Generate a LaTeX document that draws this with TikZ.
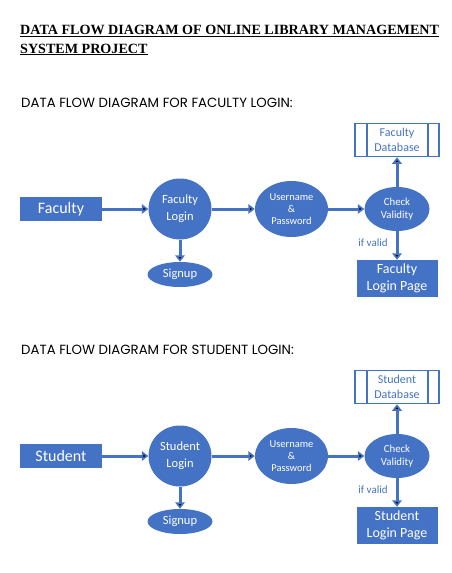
\documentclass[tikz,border=0pt]{standalone}
\usepackage{fontspec}
\setmainfont{Liberation Serif}
\newfontfamily\dfdfont{Carlito}
\newfontfamily\headfont{Poppins}
\usetikzlibrary{shapes.geometric,arrows.meta}
\definecolor{dfdblue}{HTML}{4472C4}

\begin{document}
\begin{tikzpicture}[x=1pt,y=-1pt,
        entity/.style={fill=dfdblue,text=white,inner sep=0pt,align=center,font=\dfdfont\fontsize{16}{17}\selectfont},
        process/.style={ellipse,fill=dfdblue,text=white,inner sep=0pt,align=center,font=\dfdfont\fontsize{12.5}{17}\selectfont},
        store/.style={draw=dfdblue,line width=1.5pt,text=dfdblue,minimum width=84pt,minimum height=33pt,inner sep=0pt,align=center,font=\dfdfont\fontsize{12}{15}\selectfont,
            path picture={\draw[dfdblue,line width=1.5pt] ([xshift=12pt]path picture bounding box.north west) -- ([xshift=12pt]path picture bounding box.south west);
                \draw[dfdblue,line width=1.5pt] ([xshift=-11pt]path picture bounding box.north east) -- ([xshift=-11pt]path picture bounding box.south east);}},
        flow/.style={draw=dfdblue,line width=3pt,-{Triangle[width=9.5pt,length=6.5pt]}},
        note/.style={text=dfdblue,font=\dfdfont\fontsize{11}{12}\selectfont},
        heading/.style={anchor=base west,inner sep=0pt,font=\headfont\fontsize{13.3}{15}\selectfont}
    ]
        \useasboundingbox (0,0) rectangle (452,573);

        \node (title) [anchor=base west,align=left,inner sep=0pt,font=\fontsize{14.1}{18.5}\selectfont\bfseries] at (20,53)
            {\underline{DATA FLOW DIAGRAM OF ONLINE LIBRARY MANAGEMENT}\\\underline{SYSTEM PROJECT}};

        % faculty login
        \node (headfac) [heading] at (21,107) {DATA FLOW DIAGRAM FOR FACULTY LOGIN:};
        \node (fac) [entity,minimum width=82pt,minimum height=24pt] at (61,209) {Faculty};
        \node (faclogin) [process,minimum width=63pt,minimum height=61pt] at (180,209) {Faculty\\Login};
        \node (facuser) [process,minimum width=73pt,minimum height=56pt,font=\dfdfont\fontsize{10.5}{11.7}\selectfont] at (291.5,209) {Username\\\&\\Password};
        \node (faccheck) [process,minimum width=65pt,minimum height=44pt,font=\dfdfont\fontsize{10.8}{12.7}\selectfont] at (397,209) {Check\\Validity};
        \node (facdb) [store] at (397,140) {Faculty\\Database};
        \node (facpage) [entity,minimum width=81pt,minimum height=37pt,font=\dfdfont\fontsize{14}{16.7}\selectfont] at (397,278.5) {Faculty\\Login Page};
        \node (facsignup) [process,minimum width=65pt,minimum height=25pt] at (180,274.5) {Signup};
        \node (facvalid) [note] at (373,243) {if valid};

        \path [flow] (fac) edge node {} (faclogin);
        \path [flow] (faclogin) edge node {} (facuser);
        \path [flow] (facuser) edge node {} (faccheck);
        \path [flow] (faccheck) edge node {} (facdb);
        \path [flow] (faccheck) edge node {} (facpage);
        \path [flow] (faclogin) edge node {} (facsignup);

        % student login
        \node (headstu) [heading] at (21,354) {DATA FLOW DIAGRAM FOR STUDENT LOGIN:};
        \node (stu) [entity,minimum width=82pt,minimum height=24pt] at (61,456) {Student};
        \node (stulogin) [process,minimum width=63pt,minimum height=61pt] at (180,456) {Student\\Login};
        \node (stuuser) [process,minimum width=73pt,minimum height=56pt,font=\dfdfont\fontsize{10.5}{11.7}\selectfont] at (291.5,456) {Username\\\&\\Password};
        \node (stucheck) [process,minimum width=65pt,minimum height=44pt,font=\dfdfont\fontsize{10.8}{12.7}\selectfont] at (397,456) {Check\\Validity};
        \node (studb) [store] at (397,387) {Student\\Database};
        \node (stupage) [entity,minimum width=81pt,minimum height=37pt,font=\dfdfont\fontsize{14}{16.7}\selectfont] at (397,525.5) {Student\\Login Page};
        \node (stusignup) [process,minimum width=65pt,minimum height=25pt] at (180,521.5) {Signup};
        \node (stuvalid) [note] at (373,490) {if valid};

        \path [flow] (stu) edge node {} (stulogin);
        \path [flow] (stulogin) edge node {} (stuuser);
        \path [flow] (stuuser) edge node {} (stucheck);
        \path [flow] (stucheck) edge node {} (studb);
        \path [flow] (stucheck) edge node {} (stupage);
        \path [flow] (stulogin) edge node {} (stusignup);
\end{tikzpicture}
\end{document}
